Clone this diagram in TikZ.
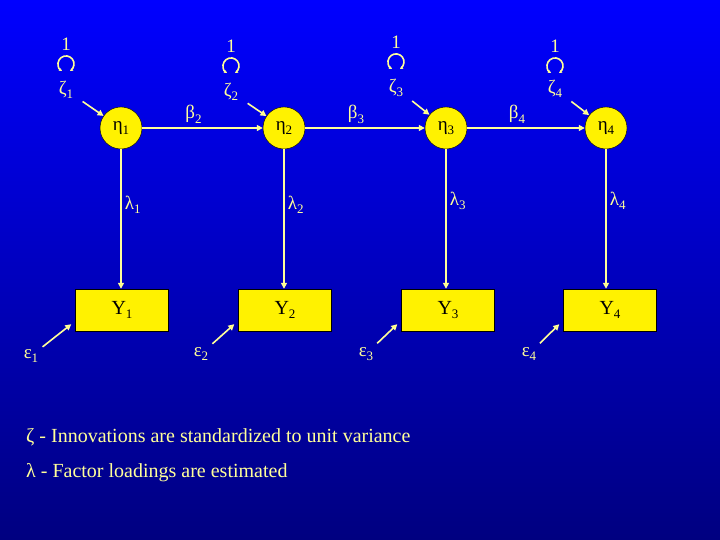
\documentclass[tikz,border=0pt]{standalone}
\usepackage{fontspec}
\setmainfont{Liberation Serif}
\usetikzlibrary{positioning,calc}
\usetikzlibrary{arrows.meta}

\definecolor{cream}{HTML}{FFFF99}
\definecolor{topblue}{HTML}{0000FF}
\definecolor{botblue}{HTML}{000080}

% lowered subscript, as on the slide
\newcommand{\low}[1]{\raisebox{-0.5ex}{\fontsize{13}{13}\selectfont #1}}

\begin{document}
\begin{tikzpicture}[x=1pt,y=1pt,
         latent/.style = {circle, draw=black, fill=yellow, minimum size=42pt,
         inner sep=0pt, font=\fontsize{19}{19}\selectfont},
         indicator/.style = {rectangle, draw=black, fill=yellow,
         minimum width=93pt, minimum height=42pt, font=\fontsize{20}{20}\selectfont},
         lbl/.style = {text=cream, inner sep=1pt, font=\fontsize{19}{19}\selectfont},
         effect/.style = {draw=cream, line width=1.6pt,
         -{Triangle[length=6pt,width=6pt,fill=yellow]}},
         varloop/.style = {draw=cream, line width=1.6pt,
         {Stealth[length=3pt,width=3.5pt]}-{Stealth[length=3pt,width=3.5pt]}}
]

      \useasboundingbox (0,0) rectangle (720,540);
      \shade[top color=topblue, bottom color=botblue] (0,0) rectangle (720,540);

      % latent states
      \node[latent] (e1) at (121,412) {η\low{1}};
      \node[latent] (e2) at (284,412) {η\low{2}};
      \node[latent] (e3) at (446,412) {η\low{3}};
      \node[latent] (e4) at (606,412) {η\low{4}};

      % observed
      \node[indicator] (y1) at (122,230) {Y\low{1}};
      \node[indicator] (y2) at (285,230) {Y\low{2}};
      \node[indicator] (y3) at (448,230) {Y\low{3}};
      \node[indicator] (y4) at (610,230) {Y\low{4}};

      % innovations
      \node[lbl] (z1) at (66,450)  {ζ\low{1}};
      \node[lbl] (z2) at (231,448) {ζ\low{2}};
      \node[lbl] (z3) at (396,452) {ζ\low{3}};
      \node[lbl] (z4) at (555,451) {ζ\low{4}};

      \coordinate[above=16pt of z1] (c1);
      \coordinate[above=16pt of z2] (c2);
      \coordinate[above=16pt of z3] (c3);
      \coordinate[above=13pt of z4] (c4);

      \node[lbl, above=12pt of c1] (one1) {1};
      \node[lbl, above=12pt of c2] (one2) {1};
      \node[lbl, above=12pt of c3] (one3) {1};
      \node[lbl, above=12pt of c4] (one4) {1};

      \foreach \i in {1,...,4}
         \draw[varloop] (c\i) ++(240:8pt) arc[start angle=240, end angle=-60, radius=8pt];

      % errors
      \node[lbl] (u1) at (31,184)  {ε\low{1}};
      \node[lbl] (u2) at (201,186) {ε\low{2}};
      \node[lbl] (u3) at (366,186) {ε\low{3}};
      \node[lbl] (u4) at (529,186) {ε\low{4}};

      % paths
      \foreach \i in {1,...,4} {
         \draw[effect, shorten <=10pt] (z\i) -- (e\i);
         \draw[effect, shorten <=4pt] (u\i) -- ([xshift=-4pt,yshift=7pt]y\i.south west);
      }

      \draw[effect] (e1) -- node[lbl, midway, above=3pt, xshift=-9pt] (b2) {β\low{2}} (e2);
      \draw[effect] (e2) -- node[lbl, midway, above=3pt, xshift=-9pt] (b3) {β\low{3}} (e3);
      \draw[effect] (e3) -- node[lbl, midway, above=3pt, xshift=-9pt] (b4) {β\low{4}} (e4);

      \draw[effect] (e1) -- node[lbl, pos=0.4, right=2pt] (l1) {λ\low{1}} (e1 |- y1.north);
      \draw[effect] (e2) -- node[lbl, pos=0.4, right=2pt] (l2) {λ\low{2}} (e2 |- y2.north);
      \draw[effect] (e3) -- node[lbl, pos=0.37, right=2pt] (l3) {λ\low{3}} (e3 |- y3.north);
      \draw[effect] (e4) -- node[lbl, pos=0.37, right=2pt] (l4) {λ\low{4}} (e4 |- y4.north);

      % legend
      \node[lbl, anchor=west, font=\fontsize{20}{20}\selectfont] (note1) at (25,103)
         {ζ - Innovations are standardized to unit variance};
      \node[lbl, anchor=west, font=\fontsize{20}{20}\selectfont] (note2) at (25,67)
         {λ - Factor loadings are estimated};

\end{tikzpicture}
\end{document}
